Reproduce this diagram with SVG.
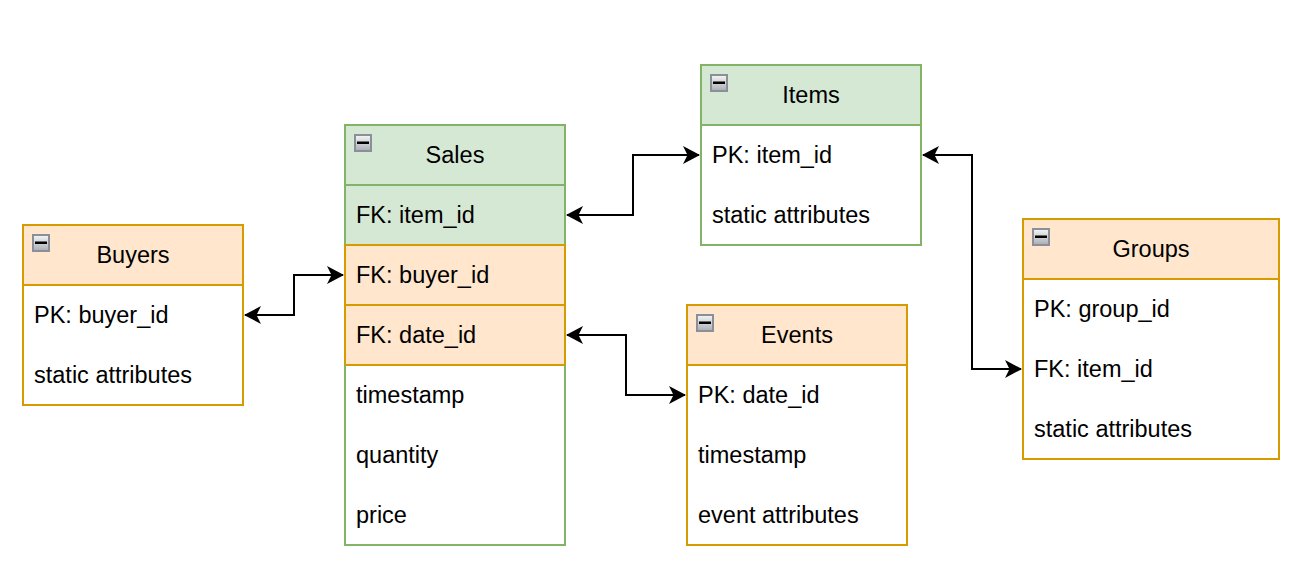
<svg xmlns="http://www.w3.org/2000/svg" width="1302" height="566" viewBox="0 0 1302 566">
<style>
text{font-family:"Liberation Sans",Arial,sans-serif;font-size:23.5px;fill:#000;dominant-baseline:central}
.t{text-anchor:middle}
.g{fill:#d5e8d4;stroke:#82b366;stroke-width:2}
.o{fill:#ffe6cc;stroke:#d79b00;stroke-width:2}
.gw{fill:#fff;stroke:#82b366;stroke-width:2}
.ow{fill:#fff;stroke:#d79b00;stroke-width:2}
.line{fill:none;stroke:#82b366;stroke-width:2}
.c{fill:none;stroke:#000;stroke-width:2;marker-start:url(#a);marker-end:url(#a)}
</style>
<defs>
<linearGradient id="ig" x1="0" y1="0" x2="0" y2="1"><stop offset="0" stop-color="#f6f6f6"/><stop offset="1" stop-color="#a9adb2"/></linearGradient>
<g id="icon"><rect x="1" y="1" width="16" height="16" fill="url(#ig)" stroke="#8a9099" stroke-width="2"/><rect x="3" y="7.5" width="12" height="2.5" fill="#000"/></g>
<marker id="a" viewBox="0 0 17 18" refX="16" refY="9" markerWidth="17" markerHeight="18" markerUnits="userSpaceOnUse" orient="auto-start-reverse"><path d="M0,0 L17,9 L0,18 L4.5,9 Z" fill="#000"/></marker>
</defs>
<g id="connectors">
<path class="c" d="M567,215 H633 V155 H699"/>
<path class="c" d="M245,315 H294 V275 H343"/>
<path class="c" d="M567,335 H626 V395 H685"/>
<path class="c" d="M923,155 H972 V369 H1021"/>
</g>
<g id="sales">
<rect class="gw" x="345" y="125" width="220" height="420"/>
<rect class="g" x="345" y="125" width="220" height="60"/>
<rect class="g" x="345" y="185" width="220" height="60"/>
<rect class="o" x="345" y="245" width="220" height="60"/>
<rect class="o" x="345" y="305" width="220" height="60"/>
<path class="line" d="M345,365 V545 H565 V365"/>
<use href="#icon" x="354" y="134"/>
<text class="t" x="455" y="155">Sales</text>
<text x="356" y="215">FK: item_id</text>
<text x="356" y="275">FK: buyer_id</text>
<text x="356" y="335">FK: date_id</text>
<text x="356" y="395">timestamp</text>
<text x="356" y="455">quantity</text>
<text x="356" y="515">price</text>
</g>
<g id="buyers">
<rect class="ow" x="23" y="225" width="220" height="180"/>
<rect class="o" x="23" y="225" width="220" height="60"/>
<use href="#icon" x="32" y="234"/>
<text class="t" x="133" y="255">Buyers</text>
<text x="34" y="315">PK: buyer_id</text>
<text x="34" y="375">static attributes</text>
</g>
<g id="items">
<rect class="gw" x="701" y="65" width="220" height="180"/>
<rect class="g" x="701" y="65" width="220" height="60"/>
<use href="#icon" x="710" y="74"/>
<text class="t" x="811" y="95">Items</text>
<text x="712" y="155">PK: item_id</text>
<text x="712" y="215">static attributes</text>
</g>
<g id="events">
<rect class="ow" x="687" y="305" width="220" height="240"/>
<rect class="o" x="687" y="305" width="220" height="60"/>
<use href="#icon" x="696" y="314"/>
<text class="t" x="797" y="335">Events</text>
<text x="698" y="395">PK: date_id</text>
<text x="698" y="455">timestamp</text>
<text x="698" y="515">event attributes</text>
</g>
<g id="groups">
<rect class="ow" x="1023" y="219" width="256" height="240"/>
<rect class="o" x="1023" y="219" width="256" height="60"/>
<use href="#icon" x="1032" y="228"/>
<text class="t" x="1151" y="249">Groups</text>
<text x="1034" y="309">PK: group_id</text>
<text x="1034" y="369">FK: item_id</text>
<text x="1034" y="429">static attributes</text>
</g>
</svg>
